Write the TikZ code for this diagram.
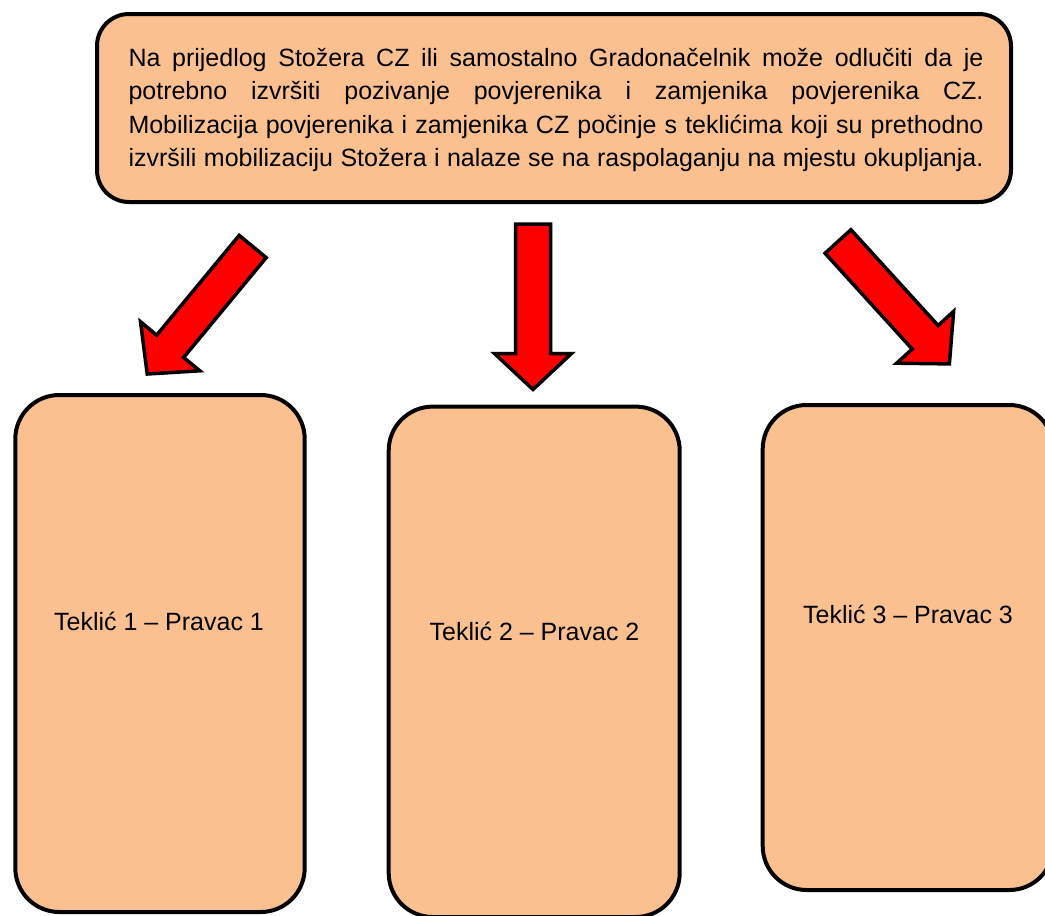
\documentclass[tikz,border=0pt]{standalone}
\usepackage{fontspec}
\setmainfont{Liberation Sans}
\definecolor{peach}{HTML}{FAC090}
\definecolor{arrowred}{HTML}{FF0000}
\tikzset{
  topbox/.style={draw=black, line width=4pt, fill=peach, rounded corners=32pt, inner sep=0pt},
  tekbox/.style={draw=black, line width=4pt, fill=peach, rounded corners=44pt, inner sep=0pt},
  teklabel/.style={font=\fontsize{25}{30}\selectfont, anchor=base, inner sep=0pt},
  blockarrow/.style={draw=black, line width=3.5pt, fill=arrowred, line join=miter}
}
\newcommand{\myblockarrow}{(0,17.5) -- (129.5,17.5) -- (129.5,38.5) -- (165.5,0) -- (129.5,-38.5) -- (129.5,-17.5) -- (0,-17.5) -- cycle}
\newcommand{\fullline}[1]{\makebox[855pt][s]{#1}}
\begin{document}
\begin{tikzpicture}[x=1pt, y=-1pt]
\useasboundingbox (0,0) rectangle (1045,916);
\clip (0,0) rectangle (1045,916);

% top box
\node[topbox, minimum width=914pt, minimum height=188pt] (top) at (554,108) {};
\node[inner sep=0pt, anchor=base west, text width=855pt, align=justify,
      font=\fontsize{25}{33.6}\selectfont] (toptext) at (128.3,66) {%
\spaceskip=0pt\xspaceskip=0pt
\fullline{Na prijedlog Stožera CZ ili samostalno Gradonačelnik može odlučiti da je}\\
\fullline{potrebno izvršiti pozivanje povjerenika i zamjenika povjerenika CZ.}\\
\fullline{Mobilizacija povjerenika i zamjenika CZ počinje s teklićima koji su prethodno}\\
\fullline{izvršili mobilizaciju Stožera i nalaze se na raspolaganju na mjestu okupljanja.}};

% arrows
\begin{scope}[shift={(252.7,246.5)}, rotate=-129.6]
  \draw[blockarrow] \myblockarrow;
\end{scope}
\begin{scope}[shift={(533,224)}, rotate=-90]
  \draw[blockarrow] \myblockarrow;
\end{scope}
\begin{scope}[shift={(838,241.5)}, rotate=-47.7]
  \draw[blockarrow] \myblockarrow;
\end{scope}

% bottom boxes
\node[tekbox, minimum width=289.4pt, minimum height=517pt] (b1) at (160,653.5) {};
\node[tekbox, minimum width=291pt, minimum height=510.4pt] (b2) at (534.2,661.8) {};
\node[tekbox, minimum width=290.6pt, minimum height=485pt] (b3) at (908,647.5) {};

\node[teklabel] (l1) at (159,630.7) {Teklić 1 – Pravac 1};
\node[teklabel] (l2) at (534.5,640) {Teklić 2 – Pravac 2};
\node[teklabel] (l3) at (908,623) {Teklić 3 – Pravac 3};
\end{tikzpicture}
\end{document}
